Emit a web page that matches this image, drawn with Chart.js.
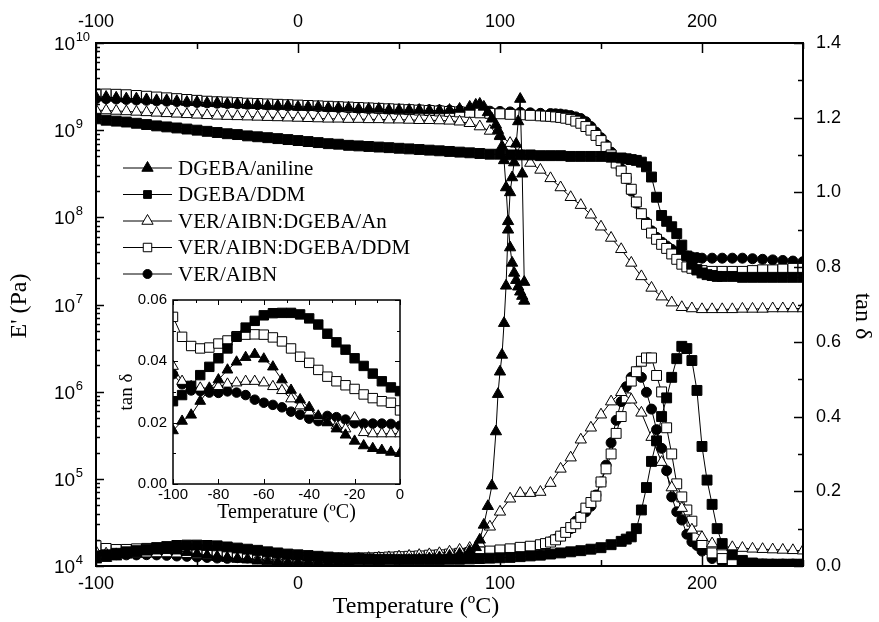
<!DOCTYPE html>
<html>
<head>
<meta charset="utf-8">
<script src="https://cdn.jsdelivr.net/npm/chart.js@4.4.1/dist/chart.umd.min.js"></script>
<style>
  body { margin: 0; background: #fff; }
  #wrap { position: relative; width: 879px; height: 622px; }
  #main { position: absolute; left: 0; top: 0; }
  #inset { position: absolute; left: 100px; top: 285px; }
</style>
</head>
<body>
<div id="wrap">
  <canvas id="main" width="879" height="622"></canvas>
  <canvas id="inset" width="310" height="245"></canvas>
</div>
<script>
// Series names and marker styles (legend order)
const seriesNames = ['DGEBA/aniline', 'DGEBA/DDM', 'VER/AIBN:DGEBA/An', 'VER/AIBN:DGEBA/DDM', 'VER/AIBN'];
const seriesStyle = ['triangle', 'rect', 'triangle', 'rect', 'circle'];
const seriesFill = ['#000', '#000', '#fff', '#fff', '#000'];

// DGEBA/aniline: temperature (ºC), E' (Pa), tan δ
const anTemps = [-100,-95,-90,-85,-80,-75,-70,-65,-60,-55,-50,-45,-40,-35,-30,-25,-20,-15,-10,-5,0,5,10,15,20,25,30,35,40,45,50,55,60,65,70,75,80,85,88,90,92,94,96,98,99,100,101,102,103,104,105,106,107,108,109,110,111,112];
const anE = [2.4e9,2.4e9,2.35e9,2.3e9,2.3e9,2.25e9,2.2e9,2.2e9,2.15e9,2.1e9,
  2.1e9,2.05e9,2.05e9,2.0e9,2.0e9,1.95e9,1.95e9,1.9e9,1.9e9,1.9e9,
  1.85e9,1.85e9,1.85e9,1.8e9,1.8e9,1.8e9,1.75e9,1.75e9,1.75e9,1.7e9,
  1.7e9,1.7e9,1.7e9,1.68e9,1.68e9,1.7e9,1.75e9,1.85e9,
  1.95e9,2.0e9,1.85e9,1.6e9,1.35e9,1.15e9,
  1.0e9,8.5e8,6.5e8,4.5e8,2.2e8,9e7,4.5e7,3e7,2.3e7,1.9e7,1.6e7,1.4e7,1.25e7,1.1e7];
const anTan = [0.017,0.021,0.025,0.030,0.034,0.038,0.041,0.042,0.041,0.037,
  0.032,0.028,0.025,0.022,0.019,0.017,0.014,0.012,0.011,0.010,
  0.010,0.010,0.010,0.010,0.011,0.011,0.012,0.012,0.013,0.014,
  0.015,0.016,0.018,0.020,0.023,0.027,0.032,0.040,
  0.05,0.07,0.11,0.16,0.215,0.36,
  0.46,0.52,0.565,0.65,0.75,0.9,1.0,1.04,1.08,1.13,1.19,1.25,1.05,0.76];

// DGEBA/DDM
const ddTemps = [-100,-95,-90,-85,-80,-75,-70,-65,-60,-55,-50,-45,-40,-35,-30,-25,-20,-15,-10,-5,0,5,10,15,20,25,30,35,40,45,50,55,60,65,70,75,80,85,90,95,100,105,110,115,120,125,130,135,140,145,150,
  155,160,162.5,165,167.5,170,172.5,175,177.5,180,182.5,185,187.5,190,192.5,195,197.5,200,202.5,205,207.5,210,215,220,225,230,235,240,245,250];
const ddE = [1.35e9,1.3e9,1.27e9,1.24e9,1.2e9,1.16e9,1.12e9,1.09e9,1.06e9,1.03e9,
  1.0e9,9.7e8,9.4e8,9.1e8,8.9e8,8.6e8,8.4e8,8.2e8,8.0e8,7.8e8,
  7.6e8,7.4e8,7.2e8,7.0e8,6.9e8,6.7e8,6.6e8,6.5e8,6.4e8,6.3e8,
  6.2e8,6.1e8,6.0e8,5.9e8,5.8e8,5.7e8,5.6e8,5.5e8,5.4e8,5.3e8,
  5.3e8,5.2e8,5.2e8,5.2e8,5.1e8,5.1e8,5.1e8,5.0e8,5.0e8,5.0e8,5.0e8,
  4.9e8,4.8e8,4.7e8,4.6e8,4.5e8,4.3e8,3.8e8,2.9e8,1.7e8,1.05e8,
  9e7,7.8e7,6.5e7,4.8e7,3.6e7,2.9e7,2.5e7,2.3e7,2.2e7,2.15e7,
  2.1e7,2.1e7,2.1e7,2.05e7,2.05e7,2.05e7,2.05e7,2.05e7,2.05e7,2.05e7];
const ddTan = [0.027,0.030,0.034,0.038,0.041,0.045,0.049,0.052,0.055,0.056,
  0.056,0.055,0.054,0.051,0.048,0.045,0.042,0.038,0.035,0.032,
  0.030,0.028,0.026,0.024,0.022,0.021,0.020,0.019,0.018,0.018,
  0.017,0.017,0.017,0.017,0.017,0.018,0.018,0.019,0.020,0.021,
  0.022,0.023,0.025,0.027,0.029,0.032,0.035,0.038,0.041,0.045,0.049,
  0.057,0.066,0.072,0.078,0.10,0.15,0.21,0.28,0.335,0.40,
  0.45,0.505,0.555,0.588,0.582,0.55,0.47,0.32,0.23,0.165,
  0.10,0.06,0.03,0.015,0.008,0.005,0.004,0.004,0.004,0.004];

// VER/AIBN:DGEBA/An
const vaTemps = [-100,-95,-90,-85,-80,-75,-70,-65,-60,-55,-50,-45,-40,-35,-30,-25,-20,-15,-10,-5,0,5,10,15,20,25,30,35,40,45,50,55,60,65,70,75,80,85,90,95,100,105,110,115,120,125,130,135,140,145,150,155,160,165,170,175,180,185,190,195,200,205,210,215,220,225,230,235,240,245,250];
const vaE = [1.7e9,1.68e9,1.66e9,1.64e9,1.62e9,1.6e9,1.58e9,1.56e9,1.54e9,1.52e9,
  1.5e9,1.48e9,1.46e9,1.45e9,1.44e9,1.43e9,1.42e9,1.41e9,1.4e9,1.39e9,
  1.38e9,1.37e9,1.36e9,1.35e9,1.35e9,1.34e9,1.34e9,1.33e9,1.33e9,1.32e9,
  1.32e9,1.31e9,1.3e9,1.3e9,1.29e9,1.28e9,1.25e9,1.2e9,1.1e9,9.8e8,
  8.7e8,7.1e8,5.5e8,4.2e8,3.5e8,2.8e8,2.2e8,1.7e8,1.38e8,1.07e8,
  7.8e7,5.8e7,4.3e7,3.0e7,2.1e7,1.55e7,1.23e7,1.05e7,9.3e6,9.0e6,
  8.8e6,8.8e6,8.8e6,8.8e6,8.9e6,8.9e6,8.9e6,9.0e6,9.0e6,9.0e6,9.0e6];
const vaTan = [0.038,0.033,0.031,0.031,0.032,0.033,0.0335,0.0335,0.033,0.0315,
  0.029,0.026,0.0235,0.021,0.0195,0.018,0.019,0.0165,0.0165,0.0165,
  0.0165,0.017,0.017,0.018,0.018,0.019,0.020,0.021,0.022,0.023,
  0.025,0.027,0.029,0.031,0.034,0.038,0.043,0.048,0.060,0.105,
  0.145,0.18,0.195,0.195,0.198,0.222,0.26,0.29,0.338,0.37,
  0.405,0.44,0.465,0.445,0.41,0.345,0.278,0.21,0.155,0.097,
  0.077,0.06,0.052,0.05,0.048,0.046,0.045,0.044,0.043,0.042,0.041];

// VER/AIBN:DGEBA/DDM
const vdTemps = [-100,-95,-90,-85,-80,-75,-70,-65,-60,-55,-50,-45,-40,-35,-30,-25,-20,-15,-10,-5,0,5,10,15,20,25,30,35,40,45,50,55,60,65,70,75,80,85,90,95,100,105,110,115,120,
  122.5,125,127.5,130,132.5,135,137.5,140,142.5,145,147.5,150,152.5,155,157.5,160,162.5,165,167.5,170,172.5,175,177.5,180,182.5,185,187.5,190,192.5,195,197.5,200,
  205,210,215,220,225,230,235,240,245,250];
const vdE = [2.6e9,2.6e9,2.58e9,2.55e9,2.5e9,2.45e9,2.4e9,2.35e9,2.3e9,2.25e9,
  2.2e9,2.15e9,2.12e9,2.1e9,2.07e9,2.04e9,2.02e9,2.0e9,1.98e9,1.96e9,
  1.94e9,1.92e9,1.9e9,1.88e9,1.86e9,1.84e9,1.82e9,1.8e9,1.78e9,1.76e9,
  1.74e9,1.72e9,1.7e9,1.68e9,1.66e9,1.64e9,1.62e9,1.6e9,1.58e9,1.56e9,
  1.54e9,1.52e9,1.5e9,1.48e9,1.46e9,
  1.45e9,1.44e9,1.42e9,1.4e9,1.37e9,1.33e9,1.27e9,1.2e9,1.1e9,1.0e9,
  8.7e8,7.6e8,6.4e8,5.2e8,4.2e8,3.4e8,2.8e8,2.1e8,1.5e8,1.1e8,
  8.3e7,6.6e7,5.6e7,4.9e7,4.4e7,3.8e7,3.3e7,2.9e7,2.7e7,2.6e7,
  2.5e7,2.45e7,
  2.4e7,2.4e7,2.4e7,2.4e7,2.45e7,2.5e7,2.5e7,2.55e7,2.6e7,2.6e7];
const vdTan = [0.0545,0.047,0.0442,0.0444,0.046,0.0472,0.0485,0.0487,0.0487,0.0475,
  0.0455,0.0425,0.0395,0.0365,0.034,0.0325,0.031,0.029,0.0278,0.0265,
  0.024,0.023,0.022,0.021,0.021,0.021,0.022,0.022,0.023,0.024,
  0.025,0.026,0.027,0.029,0.030,0.032,0.034,0.036,0.038,0.040,
  0.043,0.046,0.050,0.053,0.057,
  0.060,0.064,0.070,0.080,0.090,0.103,0.113,0.130,0.155,0.170,
  0.187,0.225,0.260,0.300,0.355,0.400,0.450,0.495,0.520,0.548,
  0.557,0.557,0.510,0.466,0.370,0.300,0.220,0.185,0.150,0.120,
  0.080,0.060,
  0.035,0.020,0.012,0.008,0.006,0.005,0.005,0.005,0.005,0.005];

// VER/AIBN
const vTemps = [-100,-95,-90,-85,-80,-75,-70,-65,-60,-55,-50,-45,-40,-35,-30,-25,-20,-15,-10,-5,0,5,10,15,20,25,30,35,40,45,50,55,60,65,70,75,80,85,90,95,100,105,110,115,120,125,
  127.5,130,132.5,135,137.5,140,142.5,145,147.5,150,152.5,155,157.5,160,162.5,165,167.5,170,172.5,175,177.5,180,182.5,185,187.5,190,192.5,195,197.5,200,
  205,210,215,220,225,230,235,240,245,250];
const vE = [2.3e9,2.3e9,2.28e9,2.25e9,2.22e9,2.2e9,2.17e9,2.15e9,2.13e9,2.1e9,
  2.08e9,2.06e9,2.04e9,2.02e9,2.0e9,1.98e9,1.96e9,1.94e9,1.92e9,1.9e9,
  1.9e9,1.88e9,1.86e9,1.84e9,1.82e9,1.8e9,1.78e9,1.77e9,1.76e9,1.75e9,
  1.74e9,1.73e9,1.72e9,1.71e9,1.7e9,1.69e9,1.68e9,1.67e9,1.66e9,1.65e9,
  1.64e9,1.62e9,1.6e9,1.58e9,1.56e9,1.55e9,
  1.54e9,1.53e9,1.5e9,1.47e9,1.42e9,1.36e9,1.25e9,1.1e9,9.5e8,8.2e8,
  6.8e8,5.6e8,4.5e8,3.6e8,2.8e8,2.0e8,1.45e8,1.1e8,8.8e7,7.0e7,
  5.9e7,5.2e7,4.7e7,4.3e7,4.0e7,3.8e7,3.6e7,3.5e7,3.45e7,3.4e7,
  3.4e7,3.4e7,3.4e7,3.4e7,3.35e7,3.3e7,3.25e7,3.2e7,3.15e7,3.1e7];
const vTan = [0.036,0.031,0.0303,0.0298,0.0297,0.0302,0.0297,0.0285,0.0268,0.0258,
  0.0242,0.0229,0.0213,0.0205,0.0222,0.0215,0.0198,0.0197,0.0197,0.0195,
  0.019,0.019,0.019,0.019,0.019,0.020,0.020,0.021,0.021,0.022,
  0.023,0.024,0.025,0.026,0.027,0.029,0.031,0.033,0.035,0.037,
  0.040,0.043,0.046,0.050,0.055,0.065,
  0.072,0.080,0.090,0.100,0.120,0.133,0.145,0.160,0.190,0.225,
  0.270,0.330,0.390,0.440,0.480,0.505,0.520,0.505,0.465,0.420,
  0.365,0.315,0.255,0.185,0.145,0.123,0.085,0.065,0.055,0.040,
  0.020,0.010,0.006,0.005,0.005,0.005,0.005,0.005,0.005,0.005];

// Inset: tan δ between -100 and 0 ºC
const insetTemps = [-100,-96,-92,-88,-84,-80,-76,-72,-68,-64,-60,-56,-52,-48,-44,-40,-36,-32,-28,-24,-20,-16,-12,-8,-4,0];
const insetAn = [0.0174,0.0205,0.0225,0.027,0.031,0.034,0.0372,0.0398,0.0413,0.0423,0.0408,0.0382,0.034,0.0306,0.0275,0.025,0.0222,0.02,0.018,0.016,0.014,0.0125,0.0116,0.011,0.0104,0.01];
const insetDd = [0.027,0.029,0.032,0.0355,0.0382,0.041,0.0442,0.048,0.051,0.0532,0.055,0.0557,0.0558,0.0558,0.0553,0.054,0.052,0.049,0.0462,0.0438,0.041,0.0385,0.036,0.0335,0.0315,0.0303];
const insetVa = [0.0384,0.0335,0.0318,0.0313,0.0313,0.0318,0.0326,0.033,0.0335,0.0335,0.033,0.0318,0.0305,0.0278,0.0255,0.0235,0.0217,0.0202,0.019,0.018,0.0216,0.0168,0.0164,0.0164,0.0164,0.0164];
const insetVd = [0.0545,0.048,0.045,0.0442,0.0445,0.0458,0.0468,0.0482,0.0487,0.0488,0.0487,0.0478,0.0465,0.0442,0.0415,0.0395,0.0372,0.035,0.0335,0.0322,0.031,0.0292,0.028,0.027,0.0265,0.024];
const insetV = [0.0358,0.0325,0.0305,0.0303,0.0298,0.0297,0.0302,0.0298,0.029,0.0275,0.0265,0.0258,0.025,0.0236,0.0226,0.0213,0.0205,0.0222,0.0218,0.021,0.0198,0.0197,0.0197,0.0197,0.0196,0.019];

const sans = '"Liberation Sans", Arial, Helvetica, sans-serif';
const serif = '"Liberation Serif", "Times New Roman", Times, serif';
const markerRadius = { triangle: 6.5, rect: 7, circle: 5 };

function toPoints(temps, vals) {
  return temps.map((t, i) => ({ x: t, y: vals[i] }));
}

function series(i, temps, vals, yAxisID, scale) {
  const style = seriesStyle[i];
  return {
    label: seriesNames[i],
    data: toPoints(temps, vals),
    yAxisID: yAxisID,
    showLine: true,
    borderColor: '#000',
    borderWidth: 1,
    pointStyle: style,
    pointRadius: markerRadius[style] * scale,
    pointBackgroundColor: seriesFill[i],
    pointBorderColor: '#000',
    pointBorderWidth: 1,
    tension: 0
  };
}

// inward ticks + box frame, positions come from the scales' own ticks
function frameTicks(specs, frameWidth) {
  return {
    id: 'frameTicks',
    afterDraw(chart) {
      const { ctx, chartArea: a } = chart;
      ctx.save();
      ctx.strokeStyle = '#000';
      specs.forEach(sp => {
        const s = chart.scales[sp.id];
        ctx.lineWidth = sp.width;
        s.ticks.forEach(t => {
          const kind = sp.kind(t.value);
          if (!kind) return;
          const len = kind === 'major' ? sp.major : sp.minor;
          const p = Math.round(s.getPixelForValue(t.value)) + 0.5;
          ctx.beginPath();
          if (s.position === 'bottom') { ctx.moveTo(p, a.bottom); ctx.lineTo(p, a.bottom - len); }
          else if (s.position === 'top') { ctx.moveTo(p, a.top); ctx.lineTo(p, a.top + len); }
          else if (s.position === 'left') { ctx.moveTo(a.left, p); ctx.lineTo(a.left + len, p); }
          else { ctx.moveTo(a.right, p); ctx.lineTo(a.right - len, p); }
          ctx.stroke();
        });
      });
      ctx.lineWidth = frameWidth;
      ctx.strokeRect(a.left, a.top, a.right - a.left, a.bottom - a.top);
      ctx.restore();
    }
  };
}

const isDecade = v => Math.abs(Math.log10(v) - Math.round(Math.log10(v))) < 1e-9;
const logKind = v => {
  if (isDecade(v)) return 'major';
  const m = v / Math.pow(10, Math.floor(Math.log10(v) + 1e-9));
  return Math.abs(m - Math.round(m)) < 1e-6 ? 'minor' : null;
};
const stepKind = (div) => v => (Math.abs(Math.round(v / div) * div - v) < 1e-9 ? 'major' : 'minor');

// 10^n labels on the left axis
const decadeLabels = {
  id: 'decadeLabels',
  afterDraw(chart) {
    const s = chart.scales.yE, ctx = chart.ctx;
    ctx.save();
    ctx.fillStyle = '#000';
    ctx.textAlign = 'left';
    ctx.textBaseline = 'alphabetic';
    s.ticks.forEach(t => {
      if (!isDecade(t.value)) return;
      const y = s.getPixelForValue(t.value);
      ctx.font = '19px ' + sans;
      ctx.fillText('10', 54, y + 7);
      const w = ctx.measureText('10').width;
      ctx.font = '13px ' + sans;
      ctx.fillText(String(Math.round(Math.log10(t.value))), 54 + w + 0.5, y - 2);
    });
    ctx.restore();
  }
};

// axis titles of the main plot
const axisTitles = {
  id: 'axisTitles',
  afterDraw(chart) {
    const ctx = chart.ctx;
    ctx.save();
    ctx.fillStyle = '#000';
    ctx.textAlign = 'center';
    ctx.textBaseline = 'middle';
    ctx.font = '24px ' + serif;
    ctx.fillText('Temperature (ºC)', 416, 607);
    ctx.translate(20, 306);
    ctx.rotate(-Math.PI / 2);
    ctx.fillText("E' (Pa)", 0, 0);
    ctx.restore();
    ctx.save();
    ctx.fillStyle = '#000';
    ctx.textAlign = 'center';
    ctx.textBaseline = 'middle';
    ctx.font = '24px ' + serif;
    ctx.translate(862, 316);
    ctx.rotate(Math.PI / 2);
    ctx.fillText('tan δ', 0, 0);
    ctx.restore();
  }
};

function drawMarker(ctx, style, x, y, r, fill) {
  ctx.beginPath();
  if (style === 'triangle') {
    ctx.moveTo(x, y - r);
    ctx.lineTo(x + r * 0.866, y + r * 0.5);
    ctx.lineTo(x - r * 0.866, y + r * 0.5);
    ctx.closePath();
  } else if (style === 'rect') {
    const h = r * 0.7071;
    ctx.rect(x - h, y - h, 2 * h, 2 * h);
  } else {
    ctx.arc(x, y, r, 0, Math.PI * 2);
  }
  ctx.fillStyle = fill;
  ctx.fill();
  ctx.stroke();
}

const insideLegend = {
  id: 'insideLegend',
  afterDraw(chart) {
    const ctx = chart.ctx;
    const legendR = [6.5, 5.5, 6.5, 6, 4.5];
    ctx.save();
    ctx.strokeStyle = '#000';
    ctx.lineWidth = 1;
    ctx.font = '21px ' + serif;
    ctx.textBaseline = 'middle';
    seriesNames.forEach((name, i) => {
      const y = 168 + i * 26.5;
      ctx.beginPath();
      ctx.moveTo(123, y);
      ctx.lineTo(172, y);
      ctx.stroke();
      drawMarker(ctx, seriesStyle[i], 147.5, y, legendR[i], seriesFill[i]);
      ctx.fillStyle = '#000';
      ctx.fillText(name, 178, y + 1);
    });
    ctx.restore();
  }
};

Chart.defaults.color = '#000';
Chart.defaults.font.family = sans;

const mainSets = [
  series(0, anTemps, anE, 'yE', 1), series(0, anTemps, anTan, 'yT', 1),
  series(1, ddTemps, ddE, 'yE', 1), series(1, ddTemps, ddTan, 'yT', 1),
  series(2, vaTemps, vaE, 'yE', 1), series(2, vaTemps, vaTan, 'yT', 1),
  series(3, vdTemps, vdE, 'yE', 1), series(3, vdTemps, vdTan, 'yT', 1),
  series(4, vTemps, vE, 'yE', 1), series(4, vTemps, vTan, 'yT', 1)
];

new Chart(document.getElementById('main'), {
  type: 'scatter',
  data: { datasets: mainSets },
  options: {
    responsive: false,
    animation: false,
    events: [],
    layout: { padding: 0 },
    plugins: { legend: { display: false }, tooltip: { enabled: false } },
    scales: {
      x: {
        type: 'linear', position: 'bottom', min: -100, max: 250,
        grid: { display: false, drawTicks: false }, border: { display: false },
        ticks: { stepSize: 50, padding: 7, font: { size: 18 }, maxRotation: 0,
          callback: v => (v % 100 === 0 ? String(v) : '') },
        afterFit: s => { s.height = 56; }
      },
      x2: {
        type: 'linear', position: 'top', min: -100, max: 250,
        grid: { display: false, drawTicks: false }, border: { display: false },
        ticks: { stepSize: 50, padding: 10, font: { size: 18 }, maxRotation: 0,
          callback: v => (v % 100 === 0 ? String(v) : '') },
        afterFit: s => { s.height = 43; }
      },
      yE: {
        type: 'logarithmic', position: 'left', min: 1e4, max: 1e10,
        grid: { display: false, drawTicks: false }, border: { display: false },
        ticks: { display: false },
        afterFit: s => { s.width = 96; }
      },
      yT: {
        type: 'linear', position: 'right', min: 0, max: 1.4,
        grid: { display: false, drawTicks: false }, border: { display: false },
        ticks: { stepSize: 0.1, padding: 13, font: { size: 18 },
          callback: v => (Math.round(v * 10) % 2 === 0 ? v.toFixed(1) : '') },
        afterFit: s => { s.width = 76; }
      }
    }
  },
  plugins: [
    frameTicks([
      { id: 'x', kind: stepKind(100), major: 10, minor: 6, width: 1.5 },
      { id: 'x2', kind: stepKind(100), major: 10, minor: 6, width: 1.5 },
      { id: 'yE', kind: logKind, major: 8, minor: 4, width: 1.5 },
      { id: 'yT', kind: stepKind(0.2), major: 9, minor: 5, width: 1.5 }
    ], 2),
    decadeLabels,
    axisTitles,
    insideLegend
  ]
});

const insetSets = [
  series(0, insetTemps, insetAn, 'y', 0.95),
  series(1, insetTemps, insetDd, 'y', 0.95),
  series(2, insetTemps, insetVa, 'y', 0.95),
  series(3, insetTemps, insetVd, 'y', 0.95),
  series(4, insetTemps, insetV, 'y', 0.95)
];

new Chart(document.getElementById('inset'), {
  type: 'scatter',
  data: { datasets: insetSets },
  options: {
    responsive: false,
    animation: false,
    events: [],
    layout: { padding: 0 },
    plugins: { legend: { display: false }, tooltip: { enabled: false } },
    scales: {
      x: {
        type: 'linear', position: 'bottom', min: -100, max: 0,
        grid: { display: false, drawTicks: false }, border: { display: false },
        ticks: { stepSize: 10, padding: 2, font: { size: 15 }, maxRotation: 0,
          callback: v => (v % 20 === 0 ? String(v) : '') },
        title: { display: true, text: 'Temperature (ºC)', font: { family: serif, size: 20 }, padding: { top: 0, bottom: 5 } },
        afterFit: s => { s.height = 46; }
      },
      xt: {
        type: 'linear', position: 'top', min: -100, max: 0,
        grid: { display: false, drawTicks: false }, border: { display: false },
        ticks: { stepSize: 10, display: false },
        afterFit: s => { s.height = 13; }
      },
      y: {
        type: 'linear', position: 'left', min: 0, max: 0.06,
        grid: { display: false, drawTicks: false }, border: { display: false },
        ticks: { stepSize: 0.01, padding: 6, font: { size: 15 },
          callback: v => (Math.round(v * 100) % 2 === 0 ? v.toFixed(2) : '') },
        title: { display: true, text: 'tan δ', font: { family: serif, size: 19 }, padding: { top: 16, bottom: 0 } },
        afterFit: s => { s.width = 73; }
      },
      yr: {
        type: 'linear', position: 'right', min: 0, max: 0.06,
        grid: { display: false, drawTicks: false }, border: { display: false },
        ticks: { stepSize: 0.01, display: false },
        afterFit: s => { s.width = 10; }
      }
    }
  },
  plugins: [
    frameTicks([
      { id: 'x', kind: stepKind(20), major: 5, minor: 3, width: 1 },
      { id: 'xt', kind: stepKind(20), major: 5, minor: 3, width: 1 },
      { id: 'y', kind: stepKind(0.02), major: 5, minor: 3, width: 1 },
      { id: 'yr', kind: stepKind(0.02), major: 5, minor: 3, width: 1 }
    ], 1.5)
  ]
});
</script>
</body>
</html>
